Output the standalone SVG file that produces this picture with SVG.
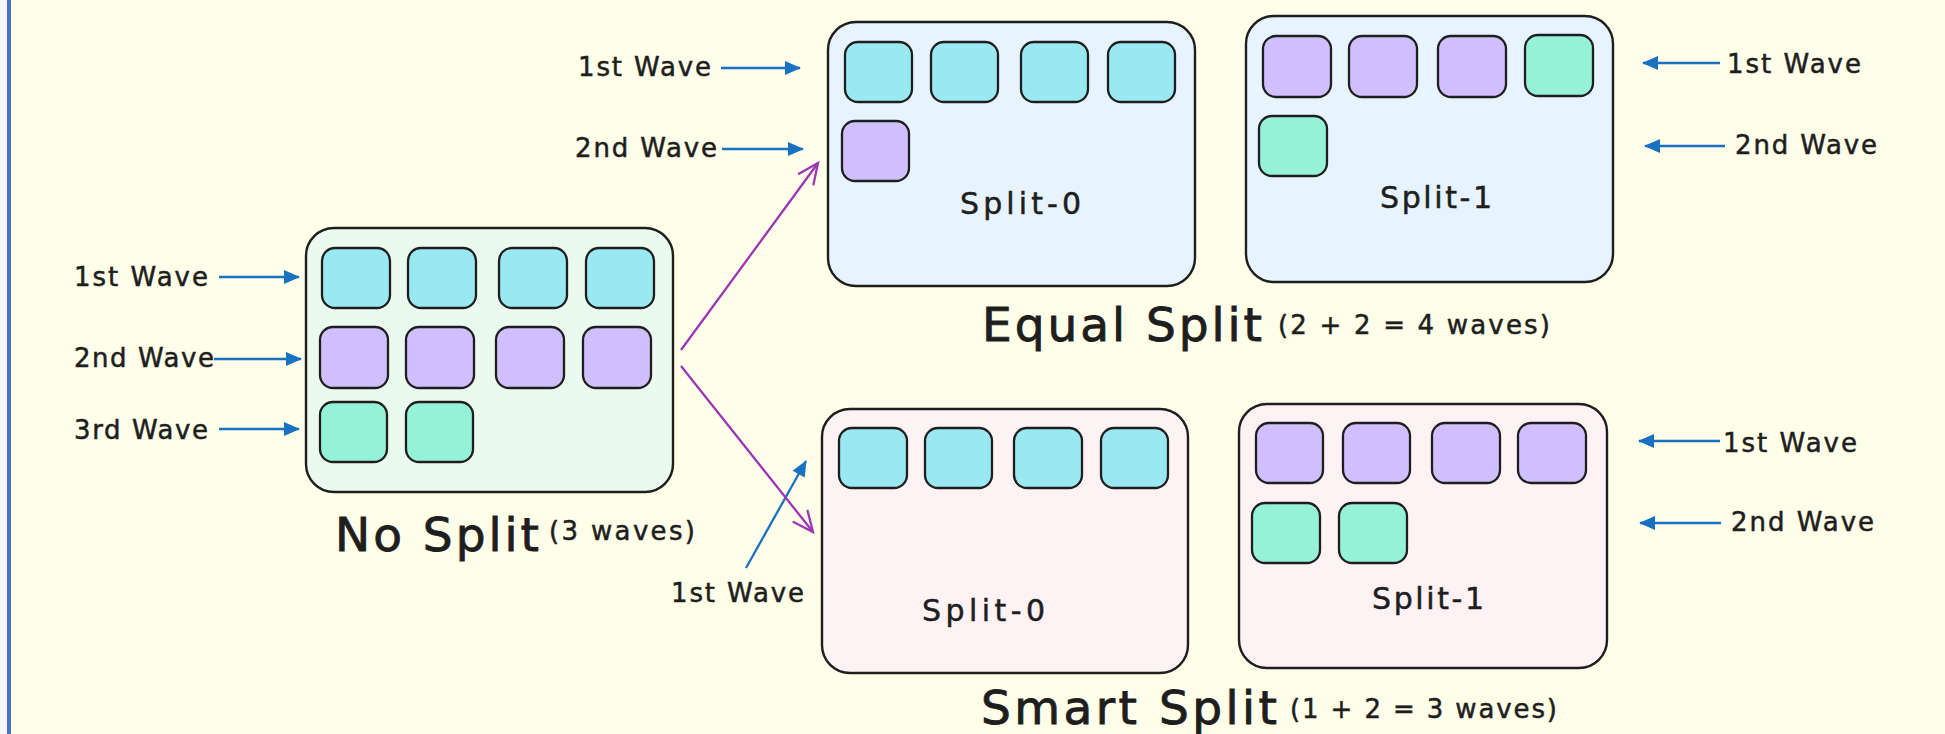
<svg xmlns="http://www.w3.org/2000/svg" width="1945" height="734" viewBox="0 0 1945 734">
  <style>
    .frame { stroke: #1e1e1e; stroke-width: 2.4; }
    .noSplit { fill: #ebfaef; }
    .equal { fill: #e7f4ff; }
    .smart { fill: #fff2f5; }
    .cell { stroke: #1e1e1e; stroke-width: 2.3; }
    .c { fill: #99e8f2; }
    .p { fill: #d0bfff; }
    .g { fill: #96f2d7; }
    text { font-family: "DejaVu Sans", "Liberation Sans", sans-serif; fill: #1e1e1e; stroke: #1e1e1e; }
    .wave { font-size: 26px; stroke-width: 0.5; }
    .split { font-size: 30px; stroke-width: 0.5; }
    .title { font-size: 47px; stroke-width: 0.9; }
    .note { font-size: 26px; stroke-width: 0.5; }
    .blue { stroke: #1971c2; stroke-width: 2.3; fill: none; marker-end: url(#headBlue); }
    .violet { stroke: #9c36b5; stroke-width: 2.3; fill: none; marker-end: url(#headViolet); }
  </style>
  <defs>
    <marker id="headBlue" markerUnits="userSpaceOnUse" markerWidth="16" markerHeight="14" refX="15" refY="7" orient="auto" overflow="visible">
      <path d="M0,0 L16,7 L0,14 z" fill="#1971c2"/>
    </marker>
    <marker id="headViolet" markerUnits="userSpaceOnUse" markerWidth="22" markerHeight="22" refX="20" refY="11" orient="auto" overflow="visible">
      <path d="M0,2 L20,11 L0,20" fill="none" stroke="#9c36b5" stroke-width="2.3" stroke-linecap="round"/>
    </marker>
  </defs>

  <!-- page background and left rule -->
  <rect x="0" y="0" width="1945" height="734" fill="#fffee9"/>
  <rect x="0" y="0" width="7" height="734" fill="#f7f7ff"/>
  <rect x="7" y="0" width="4" height="734" fill="#4a72c8"/>

  <!-- no split -->
  <g id="no-split">
    <rect class="frame noSplit" x="306" y="228" width="367" height="264" rx="28"/>
    <rect class="cell c" x="322" y="248" width="68" height="60" rx="13"/>
    <rect class="cell c" x="408" y="248" width="68" height="60" rx="13"/>
    <rect class="cell c" x="499" y="248" width="68" height="60" rx="13"/>
    <rect class="cell c" x="586" y="248" width="68" height="60" rx="13"/>
    <rect class="cell p" x="320" y="327" width="68" height="61" rx="13"/>
    <rect class="cell p" x="406" y="327" width="68" height="61" rx="13"/>
    <rect class="cell p" x="496" y="327" width="68" height="61" rx="13"/>
    <rect class="cell p" x="583" y="327" width="68" height="61" rx="13"/>
    <rect class="cell g" x="320" y="402" width="67" height="60" rx="13"/>
    <rect class="cell g" x="406" y="402" width="67" height="60" rx="13"/>
    <text class="title" x="335" y="551" textLength="204" lengthAdjust="spacing">No Split</text>
    <text class="note" x="549" y="540" textLength="146" lengthAdjust="spacing">(3 waves)</text>
  </g>

  <!-- equal split -->
  <g id="equal-split-0">
    <rect class="frame equal" x="828" y="22" width="367" height="264" rx="28"/>
    <rect class="cell c" x="845" y="42" width="67" height="60" rx="13"/>
    <rect class="cell c" x="931" y="42" width="67" height="60" rx="13"/>
    <rect class="cell c" x="1021" y="42" width="67" height="60" rx="13"/>
    <rect class="cell c" x="1108" y="42" width="67" height="60" rx="13"/>
    <rect class="cell p" x="842" y="121" width="67" height="60" rx="13"/>
    <text class="split" x="960" y="214" textLength="121" lengthAdjust="spacing">Split-0</text>
  </g>
  <g id="equal-split-1">
    <rect class="frame equal" x="1246" y="16" width="367" height="266" rx="28"/>
    <rect class="cell p" x="1263" y="36" width="68" height="61" rx="13"/>
    <rect class="cell p" x="1349" y="36" width="68" height="61" rx="13"/>
    <rect class="cell p" x="1438" y="36" width="68" height="61" rx="13"/>
    <rect class="cell g" x="1525" y="35" width="68" height="61" rx="13"/>
    <rect class="cell g" x="1259" y="116" width="68" height="60" rx="13"/>
    <text class="split" x="1380" y="208" textLength="112" lengthAdjust="spacing">Split-1</text>
  </g>
  <g id="equal-title">
    <text class="title" x="982" y="341" textLength="280" lengthAdjust="spacing">Equal Split</text>
    <text class="note" x="1278" y="334" textLength="272" lengthAdjust="spacing">(2 + 2 = 4 waves)</text>
  </g>

  <!-- smart split -->
  <g id="smart-split-0">
    <rect class="frame smart" x="822" y="409" width="366" height="264" rx="28"/>
    <rect class="cell c" x="839" y="428" width="68" height="60" rx="13"/>
    <rect class="cell c" x="925" y="428" width="67" height="60" rx="13"/>
    <rect class="cell c" x="1014" y="428" width="68" height="60" rx="13"/>
    <rect class="cell c" x="1101" y="428" width="67" height="60" rx="13"/>
    <text class="split" x="922" y="621" textLength="123" lengthAdjust="spacing">Split-0</text>
  </g>
  <g id="smart-split-1">
    <rect class="frame smart" x="1239" y="404" width="368" height="264" rx="28"/>
    <rect class="cell p" x="1256" y="423" width="67" height="60" rx="13"/>
    <rect class="cell p" x="1343" y="423" width="67" height="60" rx="13"/>
    <rect class="cell p" x="1432" y="423" width="68" height="60" rx="13"/>
    <rect class="cell p" x="1518" y="423" width="68" height="60" rx="13"/>
    <rect class="cell g" x="1252" y="503" width="68" height="60" rx="13"/>
    <rect class="cell g" x="1339" y="503" width="68" height="60" rx="13"/>
    <text class="split" x="1372" y="609" textLength="112" lengthAdjust="spacing">Split-1</text>
  </g>
  <g id="smart-title">
    <text class="title" x="981" y="724" textLength="296" lengthAdjust="spacing">Smart Split</text>
    <text class="note" x="1290" y="718" textLength="267" lengthAdjust="spacing">(1 + 2 = 3 waves)</text>
  </g>

  <!-- wave labels -->
  <g id="wave-labels">
    <text class="wave" x="74" y="286" textLength="134" lengthAdjust="spacing">1st Wave</text>
    <text class="wave" x="74" y="367" textLength="140" lengthAdjust="spacing">2nd Wave</text>
    <text class="wave" x="74" y="439" textLength="134" lengthAdjust="spacing">3rd Wave</text>
    <text class="wave" x="578" y="76" textLength="133" lengthAdjust="spacing">1st Wave</text>
    <text class="wave" x="575" y="157" textLength="142" lengthAdjust="spacing">2nd Wave</text>
    <text class="wave" x="1727" y="73" textLength="134" lengthAdjust="spacing">1st Wave</text>
    <text class="wave" x="1735" y="154" textLength="142" lengthAdjust="spacing">2nd Wave</text>
    <text class="wave" x="671" y="602" textLength="133" lengthAdjust="spacing">1st Wave</text>
    <text class="wave" x="1723" y="452" textLength="134" lengthAdjust="spacing">1st Wave</text>
    <text class="wave" x="1731" y="531" textLength="143" lengthAdjust="spacing">2nd Wave</text>
  </g>

  <!-- connectors -->
  <g id="connectors">
    <line class="blue" x1="219" y1="277" x2="299" y2="277"/>
    <line class="blue" x1="214" y1="359" x2="301" y2="359"/>
    <line class="blue" x1="219" y1="429" x2="299" y2="429"/>
    <line class="blue" x1="721" y1="68" x2="800" y2="68"/>
    <line class="blue" x1="722" y1="149" x2="803" y2="149"/>
    <line class="blue" x1="1720" y1="63" x2="1643" y2="63"/>
    <line class="blue" x1="1725" y1="146" x2="1645" y2="146"/>
    <line class="blue" x1="746" y1="568" x2="806" y2="461"/>
    <line class="blue" x1="1720" y1="441" x2="1639" y2="441"/>
    <line class="blue" x1="1721" y1="523" x2="1640" y2="523"/>
    <line class="violet" x1="681" y1="350" x2="818" y2="163"/>
    <line class="violet" x1="681" y1="366" x2="813" y2="532"/>
  </g>
</svg>
